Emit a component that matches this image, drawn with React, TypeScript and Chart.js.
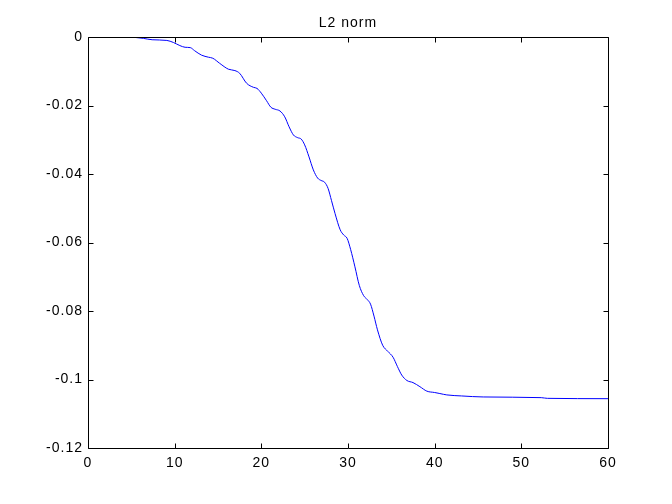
import React, { useEffect, useRef } from "react";
import { Chart, registerables } from "chart.js";

Chart.register(...registerables);

const titleText = "L2 norm";
const xValues = [
  5.0, 6.4, 7.4, 9.1, 9.85, 10.6, 11.2, 11.8, 12.3, 13.1, 13.9, 14.4, 15.2, 16.2, 16.95, 17.5,
  18.3, 19.1, 19.5, 20.0, 20.6, 21.1, 21.6, 22.15, 22.7, 23.2, 23.7, 24.2, 24.6, 25.0, 25.5,
  26.0, 26.5, 26.9, 27.3, 27.7, 28.1, 28.5, 29.1, 29.5, 29.9, 30.3, 30.8, 31.3, 31.8, 32.2,
  32.6, 33.0, 33.4, 34.0, 34.6, 35.2, 35.7, 36.2, 36.8, 37.5, 38.3, 39.1, 40.0, 40.6, 41.4,
  43.1, 45.6, 52.3, 53.0, 60.0,
];
const yValues = [
  0.0, -0.0004, -0.0008, -0.001, -0.0016, -0.0025, -0.003, -0.0031, -0.004, -0.0053, -0.0059,
  -0.0062, -0.0077, -0.0094, -0.0098, -0.0106, -0.0135, -0.0147, -0.015, -0.0164, -0.0186,
  -0.0205, -0.0211, -0.0216, -0.0233, -0.0262, -0.0286, -0.0294, -0.0298, -0.0315, -0.035,
  -0.0388, -0.0412, -0.0419, -0.0424, -0.0442, -0.0478, -0.0515, -0.0563, -0.0578, -0.0588,
  -0.062, -0.0671, -0.0725, -0.0755, -0.0766, -0.078, -0.0815, -0.0855, -0.09, -0.0918,
  -0.0935, -0.0962, -0.0987, -0.1003, -0.1009, -0.1021, -0.1034, -0.1038, -0.1041, -0.1045,
  -0.1048, -0.1051, -0.1053, -0.1055, -0.1056,
];
const xTicks = [0, 10, 20, 30, 40, 50, 60];
const yTicks = [0, -0.02, -0.04, -0.06, -0.08, -0.1, -0.12];
const yTickLabels = ["0", "-0.02", "-0.04", "-0.06", "-0.08", "-0.1", "-0.12"];

const FONT = '"Liberation Sans", Arial, sans-serif';

const matlabPlugin = {
  id: "matlabBox",
  beforeDraw(chart: any) {
    const ctx = chart.ctx;
    (ctx as any).letterSpacing = "1px";
  },
  afterDraw(chart: any) {
    const ctx = chart.ctx;
    const { left, right, top, bottom } = chart.chartArea;
    const L = Math.round(left) + 0.5;
    const R = Math.round(right) + 0.5;
    const T = Math.round(top) + 0.5;
    const B = Math.round(bottom) + 0.5;
    ctx.save();
    ctx.strokeStyle = "#000";
    ctx.lineWidth = 1;
    ctx.beginPath();
    ctx.rect(L, T, R - L, B - T);
    const tl = 5;
    const xs = chart.scales.x;
    const ys = chart.scales.y;
    xTicks.forEach((v) => {
      const p = Math.round(xs.getPixelForValue(v)) + 0.5;
      ctx.moveTo(p, B);
      ctx.lineTo(p, B - tl);
      ctx.moveTo(p, T);
      ctx.lineTo(p, T + tl);
    });
    yTicks.forEach((v) => {
      const p = Math.round(ys.getPixelForValue(v)) + 0.5;
      ctx.moveTo(L, p);
      ctx.lineTo(L + tl, p);
      ctx.moveTo(R, p);
      ctx.lineTo(R - tl, p);
    });
    ctx.stroke();
    ctx.fillStyle = "#000";
    ctx.font = "14px " + FONT;
    (ctx as any).letterSpacing = "1px";
    ctx.textAlign = "center";
    ctx.textBaseline = "alphabetic";
    ctx.fillText(titleText, (left + right) / 2, 27);
    ctx.restore();
  },
};

export default function App() {
  const ref = useRef<HTMLCanvasElement | null>(null);
  useEffect(() => {
    if (!ref.current) return;
    const points = xValues.map((x, i) => ({ x, y: yValues[i] }));
    const chart = new Chart(ref.current, {
      type: "line",
      data: {
        datasets: [
          {
            data: points,
            borderColor: "#0000ff",
            borderWidth: 1,
            pointRadius: 0,
            fill: false,
            cubicInterpolationMode: "monotone",
          },
        ],
      },
      options: {
        responsive: false,
        animation: false,
        events: [],
        layout: { padding: { top: 37, right: 64, left: 0, bottom: 0 } },
        plugins: { legend: { display: false }, title: { display: false }, tooltip: { enabled: false } },
        scales: {
          x: {
            type: "linear",
            min: 0,
            max: 60,
            grid: { display: false, drawTicks: false },
            border: { display: false },
            afterFit(scale: any) {
              scale.height = 56;
            },
            afterBuildTicks(scale: any) {
              scale.ticks = xTicks.map((v) => ({ value: v }));
            },
            ticks: {
              color: "#000",
              padding: 7,
              maxRotation: 0,
              autoSkip: false,
              font: { family: FONT, size: 14 },
              callback: (v: any) => String(v),
            },
          },
          y: {
            type: "linear",
            min: -0.12,
            max: 0,
            grid: { display: false, drawTicks: false },
            border: { display: false },
            afterFit(scale: any) {
              scale.width = 88;
            },
            afterBuildTicks(scale: any) {
              scale.ticks = yTicks.map((v) => ({ value: v }));
            },
            ticks: {
              color: "#000",
              padding: 5,
              autoSkip: false,
              font: { family: FONT, size: 14 },
              callback: (v: any) => {
                const i = yTicks.findIndex((t) => Math.abs(t - Number(v)) < 1e-9);
                return i >= 0 ? yTickLabels[i] : "";
              },
            },
          },
        },
      },
      plugins: [matlabPlugin],
    } as any);
    return () => chart.destroy();
  }, []);
  return (
    <div style={{ position: "fixed", left: 0, top: 0, width: 672, height: 504, background: "#fff" }}>
      <canvas ref={ref} width={672} height={504} style={{ display: "block" }} />
    </div>
  );
}
